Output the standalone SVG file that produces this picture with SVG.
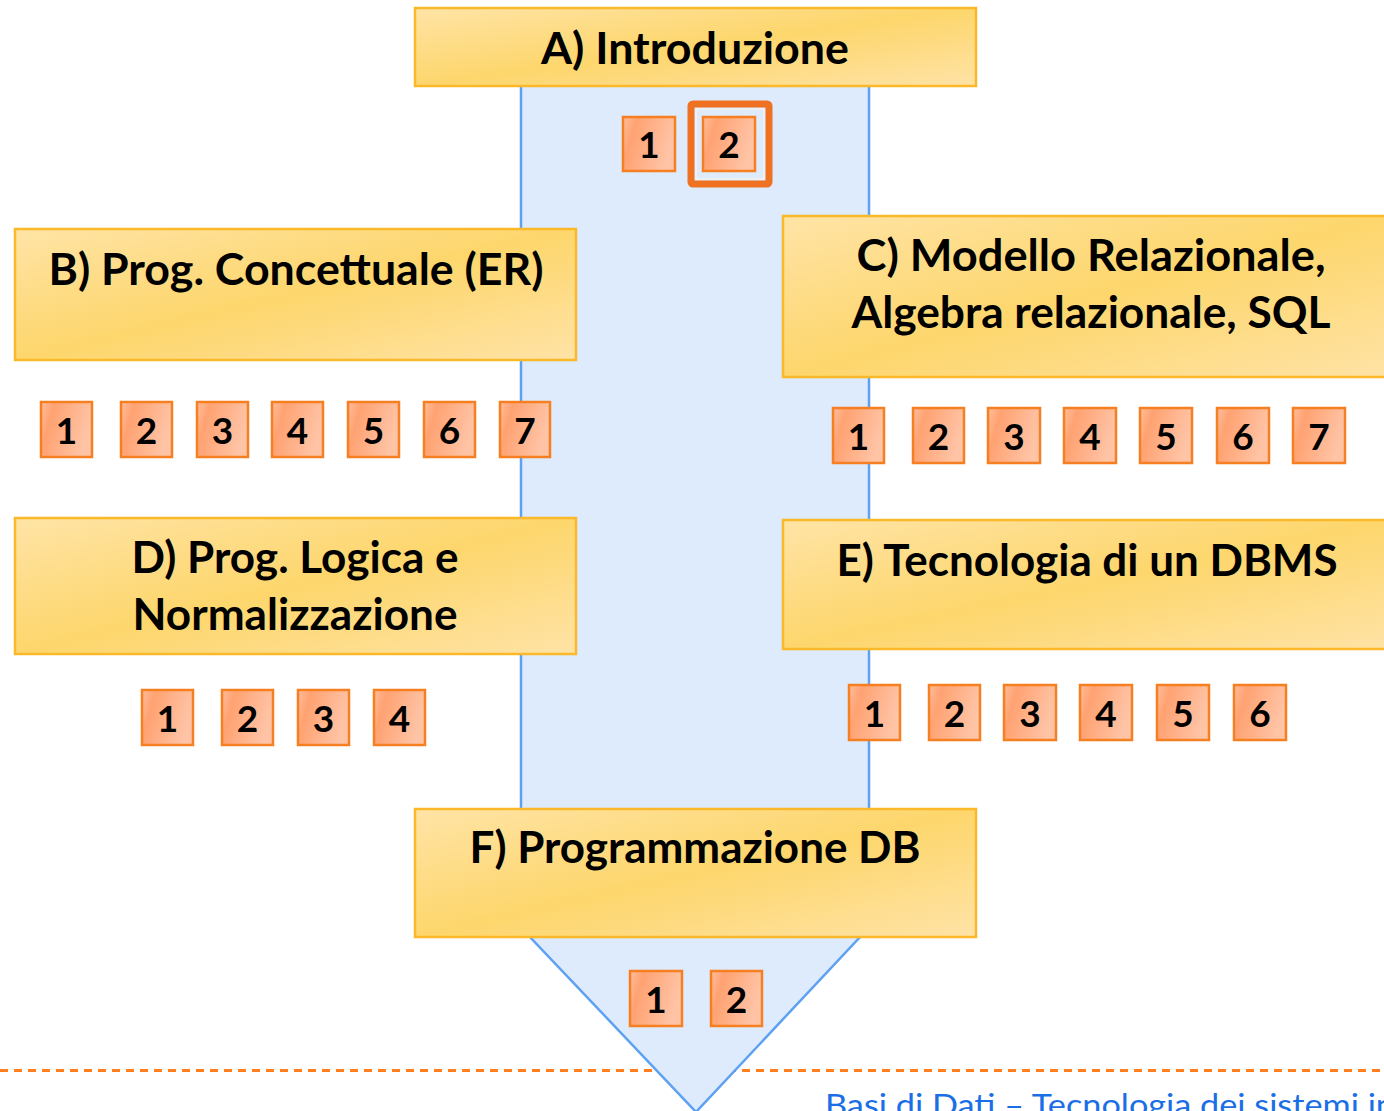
<svg xmlns="http://www.w3.org/2000/svg" width="1384" height="1111" viewBox="0 0 1384 1111">
<defs>
<linearGradient id="gy" x1="0" y1="0" x2="1" y2="1">
<stop offset="0" stop-color="#FFE4A6"/>
<stop offset="0.5" stop-color="#FDD66C"/>
<stop offset="1" stop-color="#FFE3A6"/>
</linearGradient>
<linearGradient id="go" x1="0" y1="0" x2="1" y2="0.3">
<stop offset="0" stop-color="#FFBE9C"/>
<stop offset="0.25" stop-color="#FFA272"/>
<stop offset="1" stop-color="#FFC4A6"/>
</linearGradient>
<style>
.box{fill:url(#gy);stroke:#FBB829;stroke-width:2.5}
.t{font-family:Lato,"Open Sans",sans-serif;font-weight:bold;font-size:43px;text-anchor:middle;fill:#000}
.nb{fill:url(#go);stroke:#F57F21;stroke-width:2.5}
.n{font-family:Lato,"Open Sans",sans-serif;font-weight:bold;font-size:37px;text-anchor:middle;fill:#000}
.band{fill:#DEEBFD;stroke:#5EA1F2;stroke-width:2.5}
</style>
</defs>
<rect width="1384" height="1111" fill="#fff"/>
<g id="connectors">
<line x1="0" y1="1070.5" x2="1384" y2="1070.5" stroke="#FF7F1E" stroke-width="3" stroke-dasharray="8 6"/>
<rect class="band" x="521" y="70" width="348" height="750"/>
<polygon class="band" points="523.3,930 866.6,930 696,1112"/>
</g>
<g id="nodeA">
<rect class="box" x="415" y="8" width="561" height="78"/>
<text class="t" x="695" y="64" textLength="308" lengthAdjust="spacingAndGlyphs">A) Introduzione</text>
</g>
<g id="nodeB">
<rect class="box" x="15" y="229" width="561" height="131"/>
<text class="t" x="296" y="285" textLength="495" lengthAdjust="spacingAndGlyphs">B) Prog. Concettuale (ER)</text>
</g>
<g id="nodeC">
<rect class="box" x="783" y="216" width="610" height="161"/>
<text class="t" x="1091" y="271" textLength="469" lengthAdjust="spacingAndGlyphs">C) Modello Relazionale,</text>
<text class="t" x="1091" y="328" textLength="479" lengthAdjust="spacingAndGlyphs">Algebra relazionale, SQL</text>
</g>
<g id="nodeD">
<rect class="box" x="15" y="518" width="561" height="136"/>
<text class="t" x="295" y="573" textLength="327" lengthAdjust="spacingAndGlyphs">D) Prog. Logica e</text>
<text class="t" x="295" y="630" textLength="325" lengthAdjust="spacingAndGlyphs">Normalizzazione</text>
</g>
<g id="nodeE">
<rect class="box" x="783" y="520" width="610" height="129"/>
<text class="t" x="1087" y="576" textLength="501" lengthAdjust="spacingAndGlyphs">E) Tecnologia di un DBMS</text>
</g>
<g id="nodeF">
<rect class="box" x="415" y="809" width="561" height="128"/>
<text class="t" x="695" y="863" textLength="451" lengthAdjust="spacingAndGlyphs">F) Programmazione DB</text>
</g>
<g id="numsA">
<rect class="nb" x="623" y="117" width="52" height="54"/><text class="n" x="649" y="158">1</text>
<rect class="nb" x="703" y="117" width="52" height="54"/><text class="n" x="729" y="158">2</text>
<rect x="691" y="104" width="78" height="80" fill="none" stroke="#EE7222" stroke-width="7" rx="2"/>
<rect x="696" y="109" width="68" height="70" fill="none" stroke="#F2F2F2" stroke-width="1.5"/>
</g>
<g id="numsB">
<rect class="nb" x="41" y="402" width="51" height="55"/><text class="n" x="66.5" y="444">1</text>
<rect class="nb" x="121" y="402" width="51" height="55"/><text class="n" x="146.5" y="444">2</text>
<rect class="nb" x="197" y="402" width="51" height="55"/><text class="n" x="222.5" y="444">3</text>
<rect class="nb" x="272" y="402" width="51" height="55"/><text class="n" x="297.5" y="444">4</text>
<rect class="nb" x="348" y="402" width="51" height="55"/><text class="n" x="373.5" y="444">5</text>
<rect class="nb" x="424" y="402" width="51" height="55"/><text class="n" x="449.5" y="444">6</text>
<rect class="nb" x="500" y="402" width="50" height="55"/><text class="n" x="525" y="444">7</text>
</g>
<g id="numsC">
<rect class="nb" x="833" y="408" width="51" height="55"/><text class="n" x="858.5" y="450">1</text>
<rect class="nb" x="913" y="408" width="51" height="55"/><text class="n" x="938.5" y="450">2</text>
<rect class="nb" x="988" y="408" width="52" height="55"/><text class="n" x="1014" y="450">3</text>
<rect class="nb" x="1064" y="408" width="52" height="55"/><text class="n" x="1090" y="450">4</text>
<rect class="nb" x="1140" y="408" width="52" height="55"/><text class="n" x="1166" y="450">5</text>
<rect class="nb" x="1217" y="408" width="52" height="55"/><text class="n" x="1243" y="450">6</text>
<rect class="nb" x="1293" y="408" width="52" height="55"/><text class="n" x="1319" y="450">7</text>
</g>
<g id="numsD">
<rect class="nb" x="142" y="690" width="51" height="55"/><text class="n" x="167.5" y="732">1</text>
<rect class="nb" x="222" y="690" width="51" height="55"/><text class="n" x="247.5" y="732">2</text>
<rect class="nb" x="298" y="690" width="51" height="55"/><text class="n" x="323.5" y="732">3</text>
<rect class="nb" x="374" y="690" width="51" height="55"/><text class="n" x="399.5" y="732">4</text>
</g>
<g id="numsE">
<rect class="nb" x="849" y="685" width="51" height="55"/><text class="n" x="874.5" y="727">1</text>
<rect class="nb" x="929" y="685" width="51" height="55"/><text class="n" x="954.5" y="727">2</text>
<rect class="nb" x="1004" y="685" width="52" height="55"/><text class="n" x="1030" y="727">3</text>
<rect class="nb" x="1080" y="685" width="52" height="55"/><text class="n" x="1106" y="727">4</text>
<rect class="nb" x="1157" y="685" width="52" height="55"/><text class="n" x="1183" y="727">5</text>
<rect class="nb" x="1234" y="685" width="52" height="55"/><text class="n" x="1260" y="727">6</text>
</g>
<g id="numsF">
<rect class="nb" x="630" y="971" width="52" height="55"/><text class="n" x="656" y="1013">1</text>
<rect class="nb" x="711" y="971" width="51" height="55"/><text class="n" x="736.5" y="1013">2</text>
</g>
<g id="footer">
<text x="825" y="1116" font-family="Lato,'Open Sans',sans-serif" font-size="30" fill="#1A6EE6" textLength="570" lengthAdjust="spacingAndGlyphs">Basi di Dati – Tecnologia dei sistemi in</text>
</g>
</svg>
